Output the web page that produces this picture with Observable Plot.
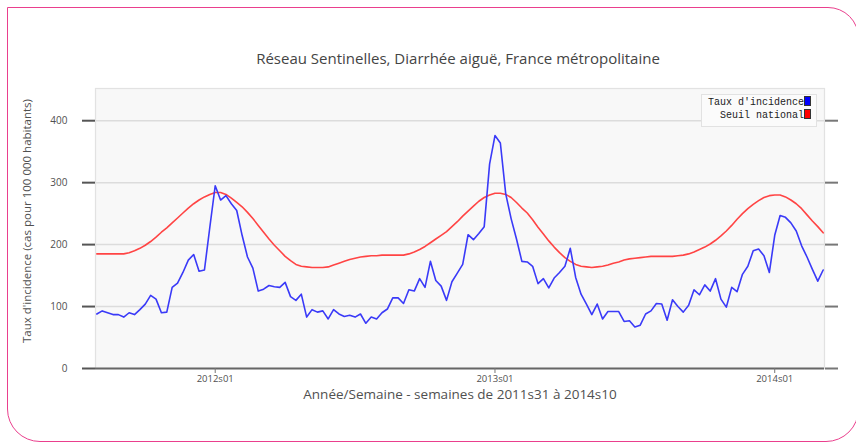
<!DOCTYPE html>
<html><head><meta charset="utf-8">
<script src="https://cdn.jsdelivr.net/npm/d3@7"></script>
<script src="https://cdn.jsdelivr.net/npm/@observablehq/plot@0.6"></script>
<style>
body{margin:0;background:#fff;width:856px;height:444px;overflow:hidden;position:relative;font-family:"Open Sans",sans-serif}
#frame{position:absolute;left:7px;top:7px;width:852px;height:435px;border:1.5px solid #ea3f8d;border-radius:0 31px 33px 33px;box-sizing:border-box}
#chart{position:absolute;left:0;top:0}
.lbl{position:absolute;white-space:nowrap;color:#505050}
#title{left:458px;top:48px;transform:translateX(-50%);font-size:15px;line-height:20px;color:#444}
#xtitle{left:460px;top:385px;transform:translateX(-50%);font-size:13.5px;line-height:18px}
#ytitle{left:27px;top:221px;transform:translate(-50%,-50%) rotate(-90deg);font-size:11.5px;line-height:14px}
#legend{position:absolute;left:701px;top:94px;width:116px;height:33px;box-sizing:border-box;background:#fbfbfb;border:1px solid #e2e2e2;font-family:"Liberation Mono","DejaVu Sans Mono",monospace;font-size:10px;line-height:13px;color:#222;padding:1px 5px 0 0;text-align:right}
.sw{display:inline-block;width:5px;height:8px;border:1px solid #333;vertical-align:-1px;margin-left:0px}
</style></head>
<body>
<div id="frame"></div>
<div id="chart"></div>
<div class="lbl" id="title">Réseau Sentinelles, Diarrhée aiguë, France métropolitaine</div>
<div class="lbl" id="xtitle">Année/Semaine - semaines de 2011s31 à 2014s10</div>
<div class="lbl" id="ytitle">Taux d'incidence (cas pour 100 000 habitants)</div>
<div id="legend"><div>Taux d'incidence<span class="sw" style="background:#0000ff"></span></div><div>Seuil national<span class="sw" style="background:#ff0000"></span></div></div>
<script>
// Weekly categories 2011s31 .. 2014s10
const yearWeeks = [[2011, 31, 52], [2012, 1, 52], [2013, 1, 52], [2014, 1, 10]];
const weeks = [];
for (const [yr, a, b] of yearWeeks) for (let w = a; w <= b; w++) weeks.push(yr + "s" + String(w).padStart(2, "0"));

const xTicks = ["2012s01", "2013s01", "2014s01"];
const yTicks = [0, 100, 200, 300, 400];

// Taux d'incidence (blue)
const taux = [88, 93, 90, 87, 87, 83, 90, 87, 95, 104, 118, 112, 90, 91, 131, 138, 155, 175, 184, 157,
  159, 228, 295, 272, 279, 266, 255, 215, 180, 162, 125, 128, 134, 132, 131, 139, 116, 110, 120, 83,
  95, 91, 93, 80, 95, 88, 84, 86, 83, 88, 73, 83, 80, 90, 96, 114, 114, 105, 127, 125,
  145, 131, 173, 142, 133, 110, 140, 154, 168, 216, 208, 218, 229, 330, 376, 364, 282, 242, 209, 173,
  172, 165, 137, 145, 130, 146, 155, 165, 194, 147, 120, 104, 87, 104, 80, 92, 92, 92, 76, 77,
  67, 70, 88, 93, 105, 104, 78, 111, 100, 91, 102, 127, 119, 135, 125, 145, 112, 99, 131, 124,
  152, 165, 190, 193, 182, 155, 215, 247, 244, 235, 222, 198, 180, 160, 141, 159];

// Seuil national (red)
const seuil = [185, 185, 185, 185, 185, 185, 187, 190, 194, 199, 205, 212, 220, 227, 235, 243, 251, 259, 266, 272,
  277, 281, 284, 284, 281, 275, 268, 261, 252, 242, 231, 220, 209, 199, 190, 181, 174, 168, 165, 164,
  163, 163, 163, 164, 167, 170, 173, 176, 178, 180, 181, 182, 182, 183, 183, 183, 183, 183, 185, 188,
  192, 197, 203, 209, 215, 221, 229, 237, 246, 254, 262, 270, 276, 280, 283, 283, 281, 276, 268, 259,
  251, 240, 228, 217, 206, 196, 187, 179, 173, 168, 165, 164, 163, 164, 165, 167, 170, 172, 175, 177,
  178, 179, 180, 181, 181, 181, 181, 181, 182, 183, 185, 188, 192, 196, 201, 207, 214, 222, 231, 241,
  250, 258, 265, 271, 276, 279, 280, 280, 277, 272, 266, 258, 248, 238, 229, 219];

const data = weeks.map((w, i) => ({week: w, taux: taux[i], seuil: seuil[i]}));

const chart = Plot.plot({
  width: 856, height: 444,
  marginLeft: 95, marginRight: 32, marginTop: 88, marginBottom: 76,
  style: {background: "transparent", color: "#505050", fontFamily: "'Open Sans', sans-serif"},
  x: {type: "point", domain: weeks, padding: 0.25, label: null},
  y: {domain: [0, 452], label: null},
  marks: [
    Plot.frame({fill: "#f8f8f8", stroke: null}),
    Plot.gridY([100, 200, 300, 400], {stroke: "#dcdcdc", strokeOpacity: 1, strokeWidth: 1.5}),
    Plot.frame({stroke: "#e2e2e2", strokeWidth: 1.2}),
    Plot.line(data, {x: "week", y: "seuil", stroke: "#ff4444", strokeWidth: 1.6}),
    Plot.line(data, {x: "week", y: "taux", stroke: "#3a3af8", strokeWidth: 1.6}),
    Plot.axisY(yTicks, {anchor: "left", tickSize: 13, tickPadding: 15, fontSize: 10, stroke: "#555", strokeWidth: 2, label: null}),
    Plot.axisY(yTicks, {anchor: "right", tickSize: 13, tickFormat: () => "", stroke: "#777", strokeWidth: 2, label: null}),
    Plot.ruleY([0], {stroke: "#666", strokeWidth: 2}),
    Plot.axisX(xTicks, {anchor: "bottom", tickSize: 5, tickPadding: 2, fontSize: 9.5, stroke: "#777", fontFamily: "'Liberation Sans Narrow', 'Open Sans', sans-serif", label: null})
  ]
});
document.getElementById("chart").appendChild(chart);
</script>
</body></html>
